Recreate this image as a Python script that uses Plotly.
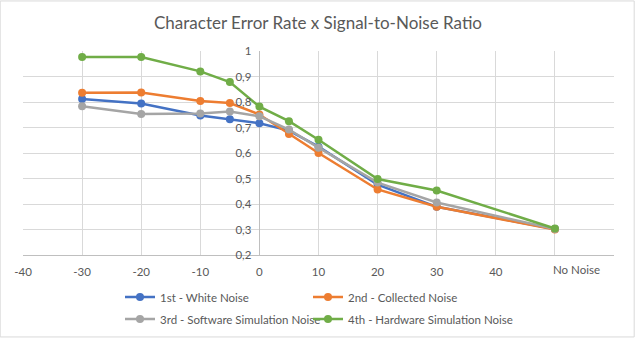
import plotly.graph_objects as go

# SNR values (dB); "No Noise" is placed at 50 on the axis
snr = [-30, -20, -10, -5, 0, 5, 10, 20, 30, 50]

# character error rate per noise type
white_noise = [0.812, 0.794, 0.747, 0.732, 0.717, 0.688, 0.625, 0.476, 0.389, 0.302]
collected_noise = [0.836, 0.837, 0.804, 0.796, 0.751, 0.675, 0.600, 0.457, 0.389, 0.300]
software_noise = [0.783, 0.753, 0.755, 0.763, 0.744, 0.692, 0.621, 0.484, 0.406, 0.302]
hardware_noise = [0.976, 0.976, 0.920, 0.878, 0.782, 0.725, 0.652, 0.498, 0.453, 0.304]

x_tick_vals = [-40, -30, -20, -10, 0, 10, 20, 30, 40, 50, 60]
x_tick_text = ["-40", "-30", "-20", "-10", "0", "10", "20", "30", "40", "", ""]

fonte = "Lato, Carlito, Calibri, sans-serif"
cinza_texto = "#595959"

W, H = 636, 338

# nome, valores, cor, legenda e posição da entrada (px)
series = [
    ("1st - White Noise", white_noise, "#4472C4", "legend", 120, 297),
    ("2nd - Collected Noise", collected_noise, "#ED7D31", "legend2", 308, 297),
    ("3rd - Software Simulation Noise", software_noise, "#A5A5A5", "legend3", 120, 319),
    ("4th - Hardware Simulation Noise", hardware_noise, "#70AD47", "legend4", 308, 319),
]

fig = go.Figure()
legendas = {}
for nome, valores, cor, leg, lx, ly in series:
    fig.add_trace(go.Scatter(
        x=snr, y=valores, mode="lines+markers", name=nome,
        line=dict(color=cor, width=2.5),
        marker=dict(color=cor, size=8),
        legend=leg,
    ))
    legendas[leg] = dict(
        orientation="h", xanchor="left", yanchor="middle",
        xref="container", yref="container", x=lx / W, y=1 - ly / H,
        font=dict(family=fonte, size=11.5, color=cinza_texto),
        itemwidth=30, bgcolor="rgba(0,0,0,0)",
    )

# plot area: left 23, right 614, top 51, bottom 255 (px)
L, R, T, B = 23.3, 21.7, 50.7, 82.7
pw, ph = W - L - R, H - T - B

fig.update_layout(
    width=W, height=H,
    margin=dict(l=L, r=R, t=T, b=B, pad=0, autoexpand=False),
    paper_bgcolor="white", plot_bgcolor="white",
    separators=", ",
    title=dict(
        text="Character Error Rate x Signal-to-Noise Ratio",
        x=0.5, xref="container", y=1 - 23 / H, yref="container",
        xanchor="center", yanchor="middle",
        font=dict(family=fonte, size=17, color=cinza_texto),
    ),
    xaxis=dict(
        range=[-40, 60], tickvals=x_tick_vals, ticktext=x_tick_text,
        showgrid=True, gridcolor="#D9D9D9", gridwidth=1,
        zeroline=True, zerolinecolor="#BFBFBF", zerolinewidth=1,
        showline=True, linecolor="#BFBFBF", linewidth=1,
        ticks="", ticklabelstandoff=6,
        tickfont=dict(family=fonte, size=11.5, color=cinza_texto),
    ),
    yaxis=dict(
        range=[0.2, 1.0], dtick=0.1, tick0=0.2,
        showgrid=True, gridcolor="#D9D9D9", gridwidth=1,
        zeroline=False, showline=False,
        anchor="free", position=0.4,
        ticks="", ticklabelstandoff=8,
        tickfont=dict(family=fonte, size=11.5, color=cinza_texto),
    ),
    showlegend=True,
    **legendas,
)

fig.add_annotation(
    text="No Noise", x=53.7, xref="x", y=-(270 - (T + ph)) / ph, yref="paper",
    showarrow=False, xanchor="center", yanchor="middle",
    font=dict(family=fonte, size=11.5, color=cinza_texto),
)

# chart area border
fig.add_shape(
    type="rect", xref="paper", yref="paper",
    x0=(0.5 - L) / pw, x1=(W - 1.5 - L) / pw,
    y0=-(H - 0.5 - T - ph) / ph, y1=(T - 0.5) / ph + 1,
    line=dict(color="#D9D9D9", width=1), fillcolor="rgba(0,0,0,0)", layer="below",
)

# sem margem da página, para o gráfico começar no canto
fig.write_html("out.html", config={"displayModeBar": False},
               post_script="document.body.style.margin='0';")
